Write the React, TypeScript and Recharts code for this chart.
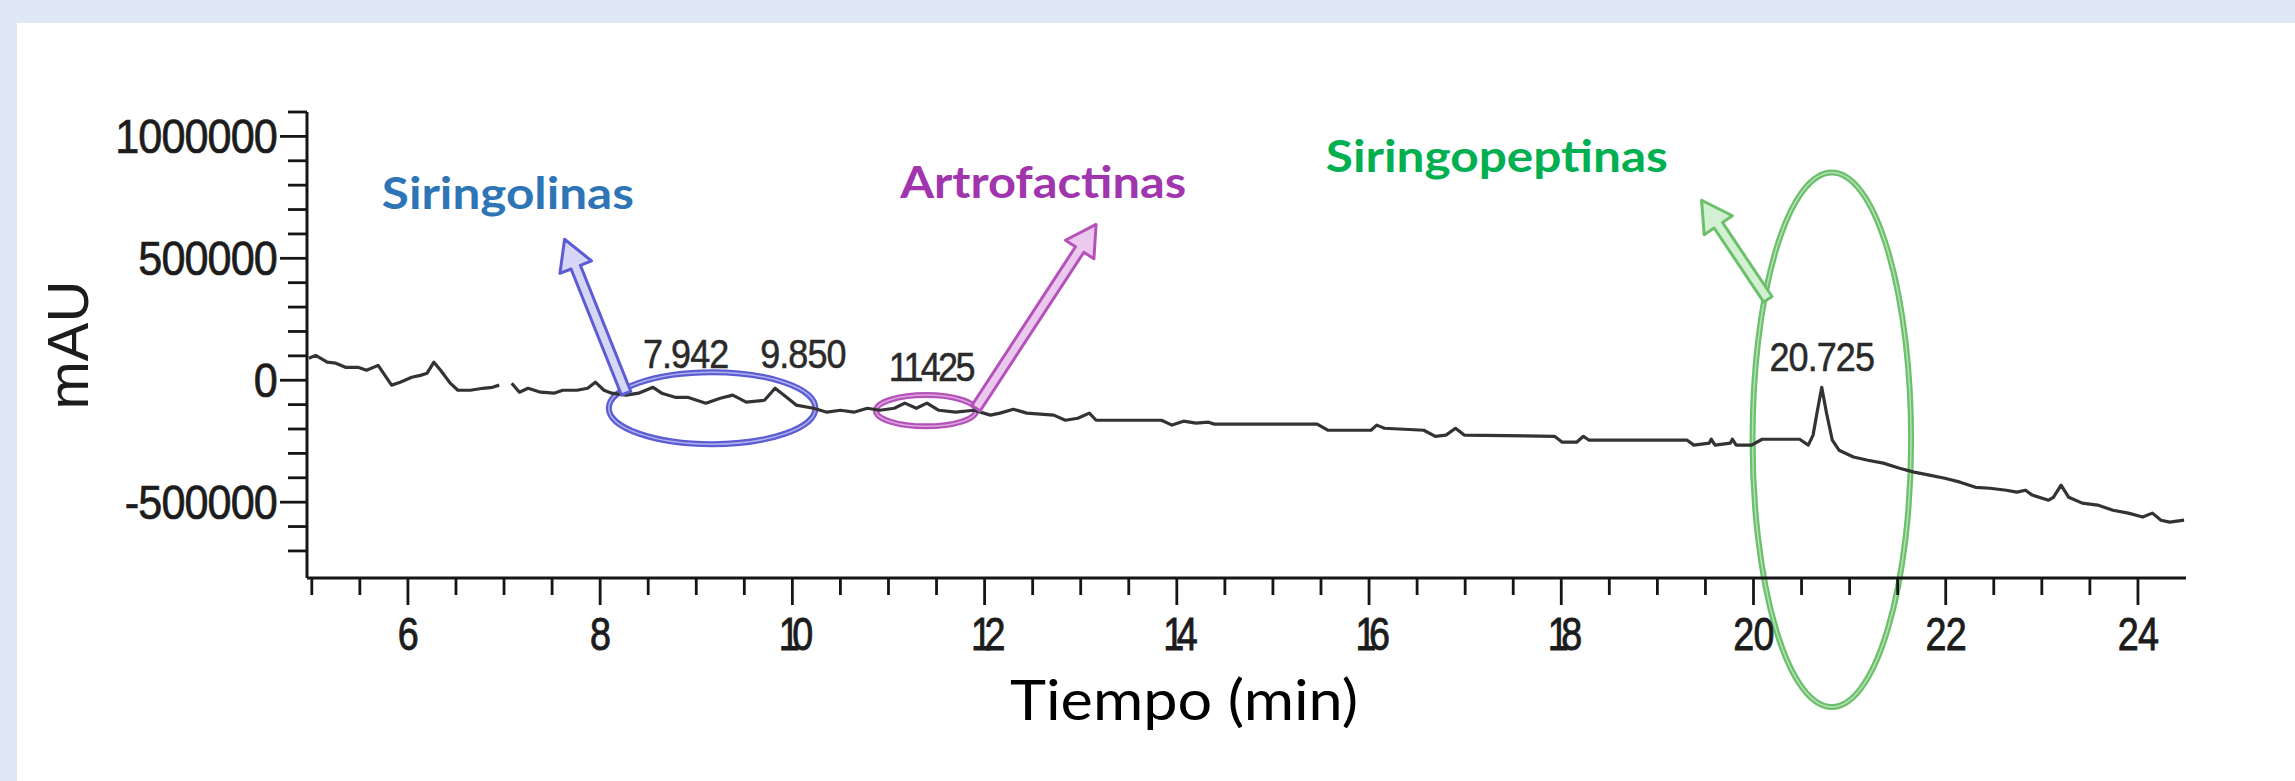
import React from 'react';
import { LineChart, Line, XAxis, YAxis, ReferenceArea, ReferenceLine, ReferenceDot } from 'recharts';

// Chromatogram trace (time in min, signal in mAU); null = gap in the trace
const tiempoMin = [
  4.97, 5.04, 5.16, 5.25, 5.35, 5.48, 5.57, 5.69, 5.83, 5.92, 6.04, 6.13, 6.2, 6.27, 6.34, 6.44, 6.52, 6.65, 6.78, 6.88, 6.95,
  7.02,
  7.08, 7.16, 7.25, 7.38, 7.52, 7.61, 7.76, 7.87, 7.95, 8.04, 8.12, 8.27, 8.4, 8.55, 8.64, 8.78, 8.91, 9.1, 9.25, 9.38, 9.52,
  9.71, 9.82, 9.94, 10.04, 10.22, 10.36, 10.5, 10.64, 10.78, 10.91, 11.06, 11.17, 11.29, 11.4, 11.52, 11.7, 11.89, 12.06,
  12.16, 12.3, 12.44, 12.72, 12.84, 12.97, 13.09, 13.16, 13.84, 13.95, 14.07, 14.2, 14.33, 14.39, 15.46, 15.57, 16.02, 16.08,
  16.16, 16.57, 16.69, 16.8, 16.9, 16.99, 17.93, 18.01, 18.16, 18.23, 18.29, 19.31, 19.38, 19.54, 19.56, 19.6, 19.76, 19.78,
  19.82, 19.98, 20.09, 20.48, 20.57, 20.62, 20.66, 20.71, 20.76, 20.82, 20.89, 21.04, 21.19, 21.35, 21.52, 21.67, 21.83,
  21.99, 22.15, 22.31, 22.46, 22.63, 22.74, 22.83, 22.9, 23.07, 23.12, 23.2, 23.28, 23.42, 23.58, 23.74, 23.9, 24.05, 24.15,
  24.24, 24.33, 24.48,
];
const senalMAU: (number | null)[] = [
  90000, 102000, 74000, 70000, 53000, 53000, 41000, 61000, -20000, -8000, 12000, 20000, 29000, 74000, 41000, -12000, -41000, -41000, -33000, -29000, -20000,
  null,
  -12000, -49000, -33000, -49000, -53000, -41000, -41000, -33000, -8000, -41000, -53000, -61000, -53000, -29000, -53000, -70000, -70000, -94000, -74000, -61000, -90000,
  -82000, -33000, -70000, -102000, -115000, -131000, -123000, -131000, -115000, -123000, -115000, -94000, -115000, -94000, -123000, -131000, -123000, -143000,
  -135000, -119000, -135000, -143000, -164000, -156000, -135000, -164000, -164000, -184000, -168000, -176000, -172000, -180000, -180000, -205000, -205000, -184000,
  -197000, -205000, -230000, -225000, -197000, -225000, -230000, -254000, -254000, -230000, -246000, -246000, -266000, -258000, -242000, -266000, -258000, -242000,
  -266000, -266000, -242000, -242000, -266000, -225000, -135000, -29000, -135000, -246000, -287000, -315000, -328000, -340000, -361000, -377000, -389000,
  -402000, -418000, -439000, -443000, -451000, -459000, -451000, -471000, -492000, -480000, -430000, -480000, -504000, -512000, -533000, -545000, -561000, -545000,
  -574000, -582000, -574000,
];

// Axis ticks
const xTicks = [5, 5.5, 6, 6.5, 7, 7.5, 8, 8.5, 9, 9.5, 10, 10.5, 11, 11.5, 12, 12.5, 13, 13.5, 14, 14.5, 15, 15.5, 16, 16.5, 17, 17.5, 18, 18.5, 19, 19.5, 20, 20.5, 21, 21.5, 22, 22.5, 23, 23.5, 24];
const xTickLabels = [6, 8, 10, 12, 14, 16, 18, 20, 22, 24];
const yTicks = [-700000, -600000, -500000, -400000, -300000, -200000, -100000, 0, 100000, 200000, 300000, 400000, 500000, 600000, 700000, 800000, 900000, 1000000, 1100000];
const yTickLabels = [-500000, 0, 500000, 1000000];

// Peak retention-time labels
const peakLabelText = ['7.942', '9.850', '11425', '20.725'];
const peakLabelT = [8.89, 10.11, 11.44, 20.71];
const peakLabelV = [49000, 49000, -4000, 37000];

// Compound group annotations
const groupNames = ['Siringolinas', 'Artrofactinas', 'Siringopeptinas'];
const groupColors = ['#2E75B6', '#A035AE', '#00B050'];
const groupLineColors = ['#5C5CD4', '#B452BA', '#6CC06C'];
const groupFillColors = ['#D6D6F6', '#EBC9EE', '#D2F0D2'];
const groupTextT = [7.04, 12.61, 17.33];
const groupTextV = [701000, 746000, 852000];
const ellipseT1 = [8.09, 10.87, 19.99];
const ellipseT2 = [10.24, 11.91, 21.64];
const ellipseV1 = [33000, -61000, 852000];
const ellipseV2 = [-262000, -189000, -1340000];
const arrowTailT = [8.27, 11.91, 20.15];
const arrowTailV = [-53000, -115000, 332000];
const arrowTipT = [7.63, 13.16, 19.46];
const arrowTipV = [578000, 639000, 738000];
const groupTextWidth = [252, 286, 342];

const data = tiempoMin.map((t, i) => ({ t, v: senalMAU[i] }));

const SANS = '"Liberation Sans", Arial, sans-serif';
const HUMAN = 'Lato, "Open Sans", sans-serif';
const INK = '#1c1c1c';

const XTick = (props: any) => {
  const { x, y, payload } = props;
  const val = payload.value;
  const major = xTickLabels.includes(val);
  const s = String(val);
  const startsOne = s.length === 2 && s[0] === '1';
  return (
    <g>
      <line x1={x} x2={x} y1={y} y2={y + (major ? 27 : 17)} stroke="#151515" strokeWidth={2.8} />
      {major && (
        <text
          transform={`translate(${x},${y + 72}) scale(0.82,1)`}
          x={0}
          y={0}
          textAnchor="middle"
          fontFamily={SANS}
          fontSize={46}
          letterSpacing={startsOne ? -9 : -1}
          fill={INK}
          stroke={INK}
          strokeWidth={0.9}
        >
          {val}
        </text>
      )}
    </g>
  );
};

const YTick = (props: any) => {
  const { x, y, payload } = props;
  const val = payload.value;
  const major = yTickLabels.includes(val);
  return (
    <g>
      <line x1={x - (major ? 27 : 19)} x2={x} y1={y} y2={y} stroke="#151515" strokeWidth={2.8} />
      {major && (
        <text
          transform={`translate(${x - 30},${y + 17}) scale(0.9,1)`}
          x={0}
          y={0}
          textAnchor="end"
          fontFamily={SANS}
          fontSize={48}
          letterSpacing={-1}
          fill={INK}
          stroke={INK}
          strokeWidth={0.7}
        >
          {val}
        </text>
      )}
    </g>
  );
};

const makeEllipse = (i: number) => (p: any) => {
  const { x, y, width, height } = p;
  const cx = x + width / 2;
  const cy = y + height / 2;
  return (
    <g>
      <ellipse cx={cx} cy={cy} rx={Math.abs(width) / 2} ry={Math.abs(height) / 2} fill="none" stroke={groupLineColors[i]} strokeWidth={6} />
      <ellipse cx={cx} cy={cy} rx={Math.abs(width) / 2} ry={Math.abs(height) / 2} fill="none" stroke={groupFillColors[i]} strokeWidth={1.5} opacity={0.7} />
    </g>
  );
};

const makeArrow = (i: number) => (p: any) => {
  const { x1, y1, x2, y2 } = p;
  if ([x1, y1, x2, y2].some((n) => typeof n !== 'number' || isNaN(n))) return <g />;
  const dx = x2 - x1;
  const dy = y2 - y1;
  const L = Math.hypot(dx, dy) || 1;
  const ux = dx / L;
  const uy = dy / L;
  const nx = -uy;
  const ny = ux;
  const sw = 5;
  const hw = 17;
  const hl = 30;
  const bx = x2 - ux * hl;
  const by = y2 - uy * hl;
  const pts = [
    [x1 + nx * sw, y1 + ny * sw],
    [bx + nx * sw, by + ny * sw],
    [bx + nx * hw, by + ny * hw],
    [x2, y2],
    [bx - nx * hw, by - ny * hw],
    [bx - nx * sw, by - ny * sw],
    [x1 - nx * sw, y1 - ny * sw],
  ]
    .map((q) => q.join(','))
    .join(' ');
  return <polygon points={pts} fill={groupFillColors[i]} stroke={groupLineColors[i]} strokeWidth={3} strokeLinejoin="round" />;
};

const makeGroupText = (i: number) => (p: any) => {
  const { cx, cy } = p;
  return (
    <text
      x={cx}
      y={cy}
      textAnchor="middle"
      fontFamily={HUMAN}
      fontWeight="bold"
      fontSize={43}
      fill={groupColors[i]}
      textLength={groupTextWidth[i]}
      lengthAdjust="spacingAndGlyphs"
    >
      {groupNames[i]}
    </text>
  );
};

const makePeakText = (i: number) => (p: any) => {
  const { cx, cy } = p;
  return (
    <text
      transform={`translate(${cx},${cy}) scale(0.9,1)`}
      x={0}
      y={0}
      textAnchor="middle"
      fontFamily={SANS}
      fontSize={40}
      letterSpacing={i === 2 ? -3 : -1}
      fill="#2a2a2a"
      stroke="#2a2a2a"
      strokeWidth={0.5}
    >
      {peakLabelText[i]}
    </text>
  );
};

const XTitle = (p: any) => {
  const vb = p.viewBox || { x: 307, y: 578, width: 1879, height: 203 };
  return (
    <text
      x={vb.x + 877}
      y={vb.y + 142}
      textAnchor="middle"
      fontFamily={HUMAN}
      fontSize={56}
      fill="#000"
      textLength={348}
      lengthAdjust="spacingAndGlyphs"
    >
      Tiempo (min)
    </text>
  );
};

const YTitle = (p: any) => {
  const vb = p.viewBox || { x: 0, y: 112, width: 307, height: 466 };
  const x = vb.x + 88;
  const y = vb.y + vb.height / 2;
  return (
    <text x={x} y={y} transform={`rotate(-90 ${x} ${y})`} textAnchor="middle" fontFamily={SANS} fontSize={58} fill={INK}>
      mAU
    </text>
  );
};

export default function App() {
  return (
    <div style={{ position: 'fixed', left: 0, top: 0, width: 2295, height: 781, background: '#DEE9F5', overflow: 'hidden' }}>
      <div style={{ position: 'absolute', left: 17, top: 23, right: 0, bottom: 0, background: '#FFFFFF' }} />
      <div style={{ position: 'absolute', left: 0, top: 0 }}>
        <LineChart width={2295} height={781} data={data} margin={{ top: 112, right: 109, bottom: 0, left: 0 }}>
          <XAxis
            dataKey="t"
            type="number"
            domain={[4.95, 24.5]}
            allowDataOverflow
            ticks={xTicks}
            interval={0}
            tick={XTick}
            tickLine={false}
            tickSize={0}
            tickMargin={0}
            height={203}
            axisLine={{ stroke: '#151515', strokeWidth: 3 }}
            label={{ content: XTitle }}
          />
          <YAxis
            type="number"
            domain={[-811000, 1100000]}
            allowDataOverflow
            ticks={yTicks}
            interval={0}
            tick={YTick}
            tickLine={false}
            tickSize={0}
            tickMargin={0}
            width={307}
            axisLine={{ stroke: '#151515', strokeWidth: 3 }}
            label={{ content: YTitle }}
          />
          <Line
            dataKey="v"
            type="linear"
            stroke="#333333"
            strokeWidth={3.2}
            strokeLinejoin="round"
            dot={false}
            activeDot={false}
            connectNulls={false}
            isAnimationActive={false}
          />
          {peakLabelText.map((_, i) => (
            <ReferenceDot key={'pk' + i} x={peakLabelT[i]} y={peakLabelV[i]} r={1} ifOverflow="visible" shape={makePeakText(i)} />
          ))}
          {groupNames.map((_, i) => (
            <ReferenceArea
              key={'el' + i}
              x1={ellipseT1[i]}
              x2={ellipseT2[i]}
              y1={ellipseV1[i]}
              y2={ellipseV2[i]}
              ifOverflow="visible"
              shape={makeEllipse(i)}
            />
          ))}
          {groupNames.map((_, i) => (
            <ReferenceLine
              key={'ar' + i}
              segment={[
                { x: arrowTailT[i], y: arrowTailV[i] },
                { x: arrowTipT[i], y: arrowTipV[i] },
              ]}
              ifOverflow="visible"
              shape={makeArrow(i)}
            />
          ))}
          {groupNames.map((_, i) => (
            <ReferenceDot key={'gt' + i} x={groupTextT[i]} y={groupTextV[i]} r={1} ifOverflow="visible" shape={makeGroupText(i)} />
          ))}
        </LineChart>
      </div>
    </div>
  );
}
